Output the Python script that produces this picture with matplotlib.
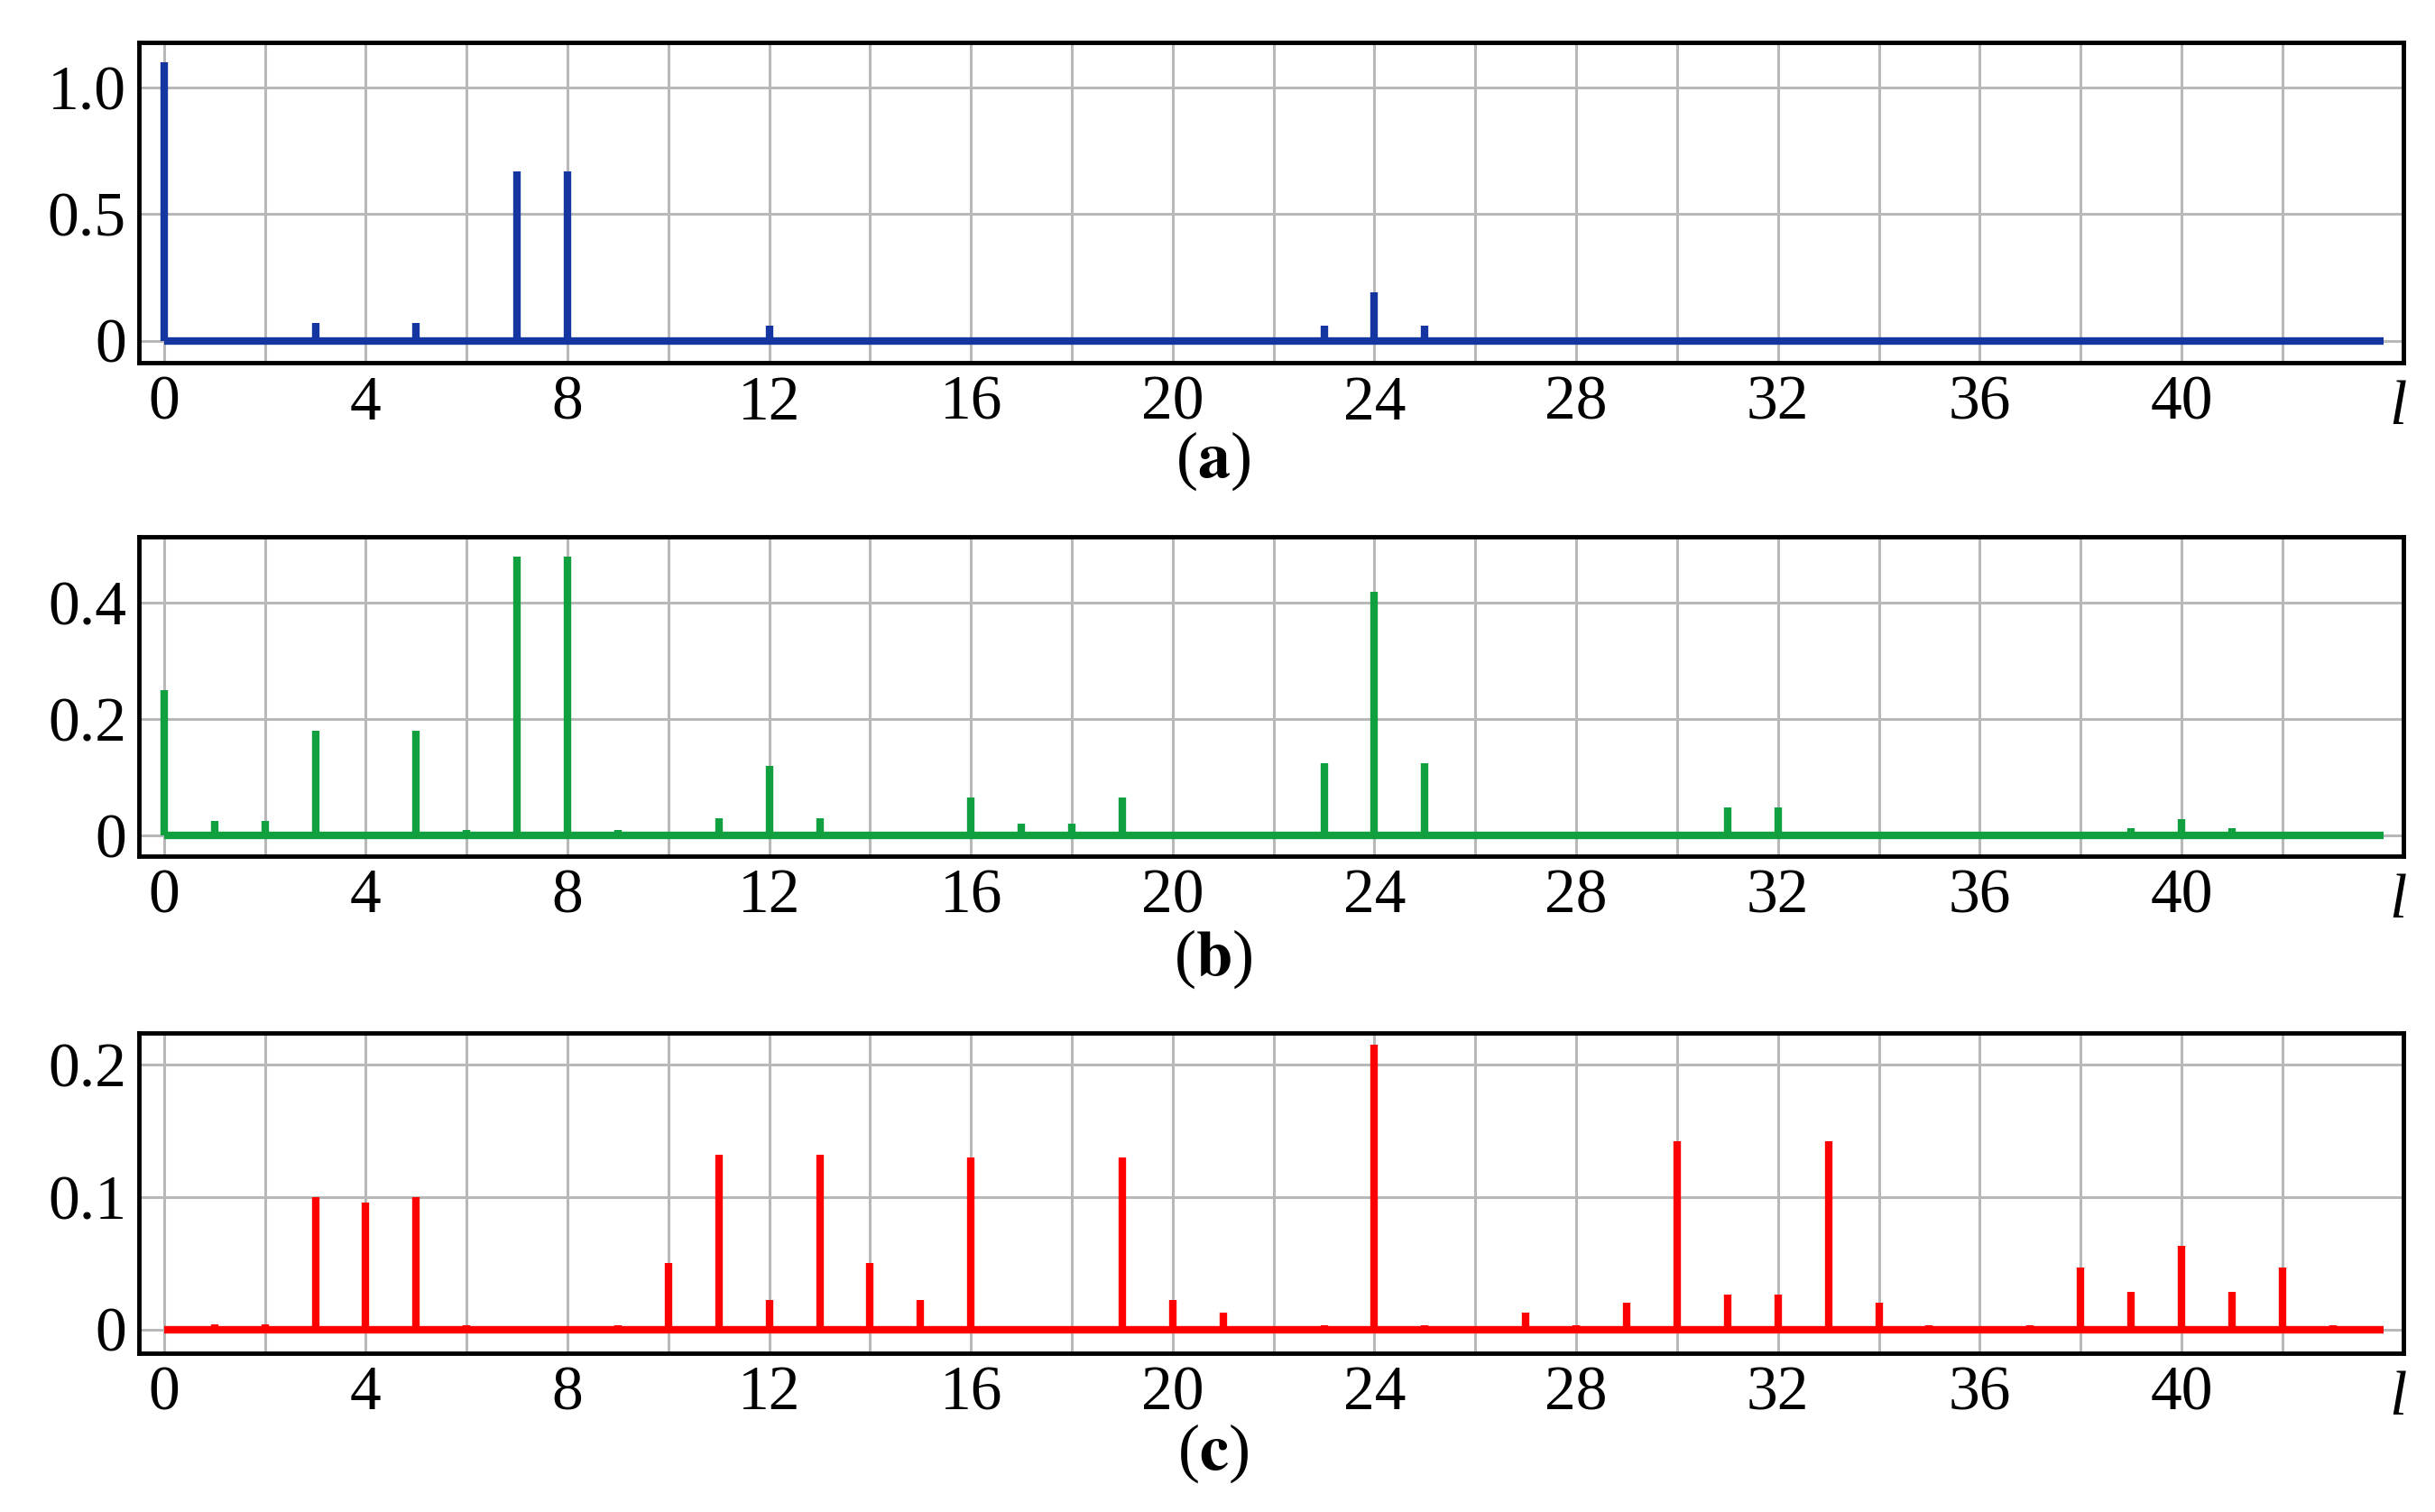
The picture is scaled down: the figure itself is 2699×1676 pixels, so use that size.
import matplotlib.pyplot as plt

plt.rcParams['font.family'] = 'Liberation Serif'
plt.rcParams['mathtext.fontset'] = 'stix'

# spectrum lines: index l -> amplitude
a_idx = [0, 3, 5, 7, 8, 12, 16, 19, 23, 24, 25, 31, 32]
a_val = [1.1, 0.07, 0.07, 0.67, 0.67, 0.06, 0.01, 0.01, 0.06, 0.19, 0.06, 0.01, 0.01]

b_idx = [0, 1, 2, 3, 5, 6, 7, 8, 9, 10, 11, 12, 13, 14, 16, 17, 18, 19, 23, 24, 25,
         30, 31, 32, 33, 38, 39, 40, 41, 42]
b_val = [0.25, 0.025, 0.025, 0.18, 0.18, 0.01, 0.48, 0.48, 0.01, 0.005, 0.03, 0.12,
         0.03, 0.005, 0.065, 0.02, 0.02, 0.065, 0.125, 0.42, 0.125, 0.005, 0.048,
         0.048, 0.005, 0.005, 0.012, 0.028, 0.012, 0.005]

c_idx = [1, 2, 3, 4, 5, 6, 9, 10, 11, 12, 13, 14, 15, 16, 19, 20, 21, 23, 24, 25, 27,
         28, 29, 30, 31, 32, 33, 34, 35, 37, 38, 39, 40, 41, 42, 43]
c_val = [0.004, 0.004, 0.1, 0.096, 0.1, 0.003, 0.003, 0.05, 0.132, 0.022, 0.132, 0.05,
         0.022, 0.13, 0.13, 0.022, 0.013, 0.003, 0.215, 0.003, 0.013, 0.003, 0.02,
         0.142, 0.026, 0.026, 0.142, 0.02, 0.003, 0.003, 0.047, 0.028, 0.063, 0.028,
         0.047, 0.003]

panels = [
    (a_idx, a_val, '#1535a0', (-0.088, 1.18), [0, 0.5, 1.0], ['0', '0.5', '1.0'], 'a'),
    (b_idx, b_val, '#10a040', (-0.035, 0.514), [0, 0.2, 0.4], ['0', '0.2', '0.4'], 'b'),
    (c_idx, c_val, '#ff0000', (-0.018, 0.224), [0, 0.1, 0.2], ['0', '0.1', '0.2'], 'c'),
]
boxes = [(0.760, 0.212), (0.434, 0.211), (0.105, 0.212)]
cap_y = [0.674, 0.345, 0.018]

fig = plt.figure(figsize=(26.99, 16.76), dpi=100)
for (idx, val, col, ylim, yt, ytl, tag), (y0, h), cy in zip(panels, boxes, cap_y):
    ax = fig.add_axes([0.057, y0, 0.930, h])
    ax.vlines(idx, 0, val, color=col, lw=6)
    ax.hlines(0, 0, 44, color=col, lw=6)
    ax.set_xlim(-0.5, 44.4)
    ax.set_ylim(*ylim)
    ax.set_xticks(range(0, 44, 4))
    ax.set_xticks(range(2, 44, 4), minor=True)
    ax.set_yticks(yt)
    ax.set_yticklabels(ytl)
    ax.grid(True, which='both', color='#b8b8b8', lw=2.2)
    ax.set_axisbelow(True)
    ax.tick_params(labelsize=50, length=0, which='both', pad=10)
    for s in ax.spines.values():
        s.set_linewidth(3.5)
    ax.text(44.3, ylim[0] - (ylim[1] - ylim[0]) * 0.055, 'l', style='italic',
            fontsize=50, ha='center', va='top')
    fig.text(0.498, cy, r'($\mathbf{' + tag + '}$)', fontsize=52, ha='center', va='bottom')

fig.savefig('out.png', dpi=100)
